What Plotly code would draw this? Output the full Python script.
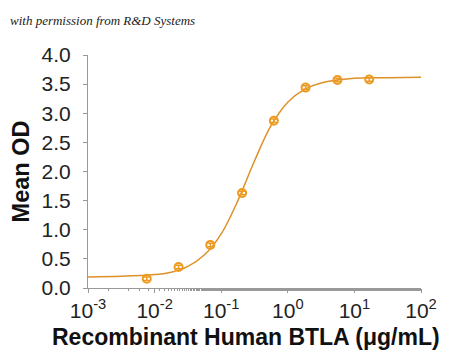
import plotly.graph_objects as go

# measured points (concentration in ug/mL, mean OD)
conc = [16.7, 5.56, 1.85, 0.617, 0.206, 0.0686, 0.0229, 0.00762]
od = [3.58, 3.57, 3.44, 2.87, 1.63, 0.74, 0.36, 0.16]

# fitted curve
curve_x = [0.001, 0.00316, 0.01, 0.0178, 0.0316, 0.0562, 0.1, 0.178, 0.316, 0.562, 1.0, 1.78, 3.16, 10.0, 31.6, 100.0]
curve_y = [0.19, 0.20, 0.23, 0.27, 0.37, 0.57, 0.93, 1.50, 2.18, 2.79, 3.19, 3.41, 3.52, 3.60, 3.61, 3.62]

x_tickvals = [0.001, 0.01, 0.1, 1, 10, 100]
x_ticktext = ["10<sup>-3</sup>", "10<sup>-2</sup>", "10<sup>-1</sup>", "10<sup>0</sup>", "10<sup>1</sup>", "10<sup>2</sup>"]
y_tickvals = [0, 0.5, 1, 1.5, 2, 2.5, 3, 3.5, 4]
y_ticktext = ["0.0", "0.5", "1.0", "1.5", "2.0", "2.5", "3.0", "3.5", "4.0"]

x_title = "Recombinant Human BTLA (\u03bcg/mL)"
y_title = "Mean OD"

fig = go.Figure()
fig.add_trace(go.Scatter(x=curve_x, y=curve_y, mode="lines",
                         line=dict(color="#DE9128", width=1.5, shape="spline", smoothing=1.0),
                         hoverinfo="skip", showlegend=False))
fig.add_trace(go.Scatter(x=conc, y=od, mode="markers",
                         marker=dict(symbol="circle-open", size=8, color="#EE9A1E", line=dict(width=2, color="#EE9A1E")),
                         error_y=dict(type="constant", value=0.03, color="#EE9A1E", thickness=1.5, width=3),
                         showlegend=False))

axis_font = dict(family="Liberation Sans, Arial, sans-serif", size=21, color="#222222")
title_font = dict(family="Liberation Sans, Arial, sans-serif", size=23, color="#111111", weight="bold")
fig.update_layout(
    width=450, height=356,
    margin=dict(l=80, r=37, t=47, b=76),
    paper_bgcolor="white", plot_bgcolor="white",
    xaxis=dict(type="log", range=[-3, 2], tickvals=x_tickvals, ticktext=x_ticktext,
               showgrid=False, zeroline=False, showline=True, linecolor="#999999", linewidth=1,
               ticks="outside", ticklen=4, tickcolor="#999999", tickfont=axis_font,
               minor=dict(ticks="outside", ticklen=2, tickcolor="#999999", showgrid=False)),
    yaxis=dict(range=[0, 4], tickvals=y_tickvals, ticktext=y_ticktext,
               showgrid=False, zeroline=False, showline=True, linecolor="#999999", linewidth=1,
               ticks="outside", ticklen=4, tickcolor="#999999", tickfont=axis_font,
               ticklabelstandoff=8,
               title=dict(text=y_title, font=dict(title_font, size=23.5), standoff=6)),
    annotations=[
        dict(text="<i>with permission from R&amp;D Systems</i>",
             xref="paper", yref="paper", x=-0.24, y=1.19,
             xanchor="left", yanchor="top", showarrow=False,
             font=dict(family="Liberation Serif, serif", size=13, color="#222222")),
        dict(text="<b>" + x_title + "</b>", xref="paper", yref="paper", x=0.475, y=-0.21,
             xanchor="center", yanchor="middle", showarrow=False, font=title_font),
    ],
)
fig.write_html("out.html")
